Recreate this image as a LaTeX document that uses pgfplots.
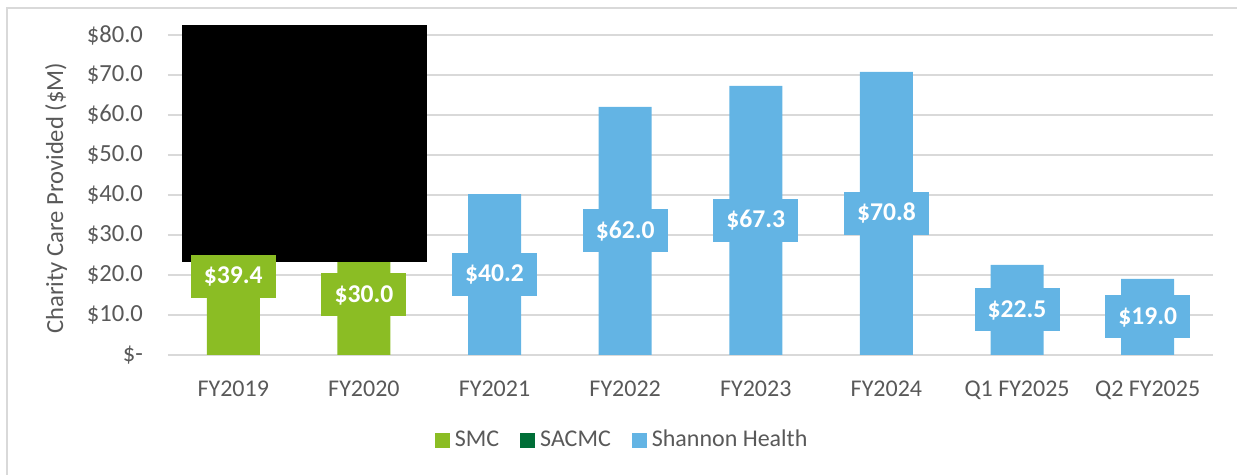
\documentclass[border=0pt]{standalone}
\usepackage{fontspec}
\setmainfont{Carlito}
\usepackage{pgfplots}
\pgfplotsset{compat=1.18}
\definecolor{smc}{RGB}{139,189,36}
\definecolor{sacmc}{RGB}{0,110,55}
\definecolor{shannon}{RGB}{99,180,228}
\definecolor{gridgray}{RGB}{217,217,217}
\definecolor{textgray}{RGB}{89,89,89}
\begin{document}
\begin{tikzpicture}
% page = 1237 x 475 px at 0.5pt/px, axis origin at (168,355) px
\path[use as bounding box] (-84pt,-60pt) rectangle (534.5pt,177.5pt);
\draw[gridgray, line width=0.8pt] (-80.5pt,-60pt) -- (-80.5pt,173.5pt) -- (534.5pt,173.5pt);
\begin{axis}[
  at={(0,0)}, anchor=south west,
  scale only axis, width=522.5pt, height=160pt,
  ymin=0, ymax=80, xmin=-0.5, xmax=7.5,
  clip=false,
  axis lines*=left,
  y axis line style={draw=none},
  x axis line style={draw=gridgray, line width=0.8pt},
  ytick={0,10,...,80},
  yticklabels={\$-\hspace{6pt},\$10.0,\$20.0,\$30.0,\$40.0,\$50.0,\$60.0,\$70.0,\$80.0},
  ytick style={draw=none},
  yticklabel style={font=\fontsize{12.3}{14}\selectfont, text=textgray, xshift=-9pt},
  ymajorgrids, grid style={draw=gridgray, line width=0.8pt},
  xtick={0,...,7},
  xticklabels={FY2019,FY2020,FY2021,FY2022,FY2023,FY2024,Q1 FY2025,Q2 FY2025},
  xtick style={draw=none},
  xticklabel style={font=\fontsize{12}{14}\selectfont, text=textgray, yshift=-5pt},
  extra x ticks={-0.5,0.5,...,7.5},
  extra x tick labels={},
  extra x tick style={tick align=outside, major tick length=4pt,
    tick style={draw=gridgray, line width=0.8pt}, grid=none},
  ylabel={Charity Care Provided (\$M)},
  ylabel style={at={(axis description cs:-0.107,0.49)}, anchor=center,
    font=\fontsize{12.3}{14}\selectfont, text=textgray},
  bar width=0.406,
  ybar,
  legend columns=3,
  legend style={draw=none, at={(axis description cs:0.436,-0.266)}, anchor=center,
    font=\fontsize{12}{14}\selectfont, text=textgray,
    nodes={inner sep=2.5pt},
    /tikz/every even column/.append style={column sep=8pt}},
  legend image code/.code={\fill[#1] (0pt,-3.75pt) rectangle (7.5pt,3.75pt);},
  visualization depends on={y \as \barh},
  nodes near coords={\$\pgfmathprintnumber[fixed,fixed zerofill,precision=1,assume math mode=true]{\pgfplotspointmeta}},
  every node near coord/.append style={anchor=center, yshift={-\barh*1pt},
    text=white, font=\bfseries\fontsize{12.8}{14}\selectfont,
    minimum width=42.5pt, minimum height=21.5pt, inner sep=0pt},
]
\addplot[fill=smc, draw=none, bar shift=0pt,
  every node near coord/.append style={fill=smc}]
  coordinates {(0,39.4) (1,30.0)};
\addlegendentry{SMC}
\addlegendimage{fill=sacmc, draw=none}
\addlegendentry{SACMC}
\addplot[fill=shannon, draw=none, bar shift=0pt,
  every node near coord/.append style={fill=shannon}]
  coordinates {(2,40.2) (3,62.0) (4,67.3) (5,70.8) (6,22.5) (7,19.0)};
\addlegendentry{Shannon Health}
\fill[black] (axis cs:-0.39,23.25) rectangle (axis cs:1.48,82.5);
\end{axis}
\end{tikzpicture}
\end{document}
